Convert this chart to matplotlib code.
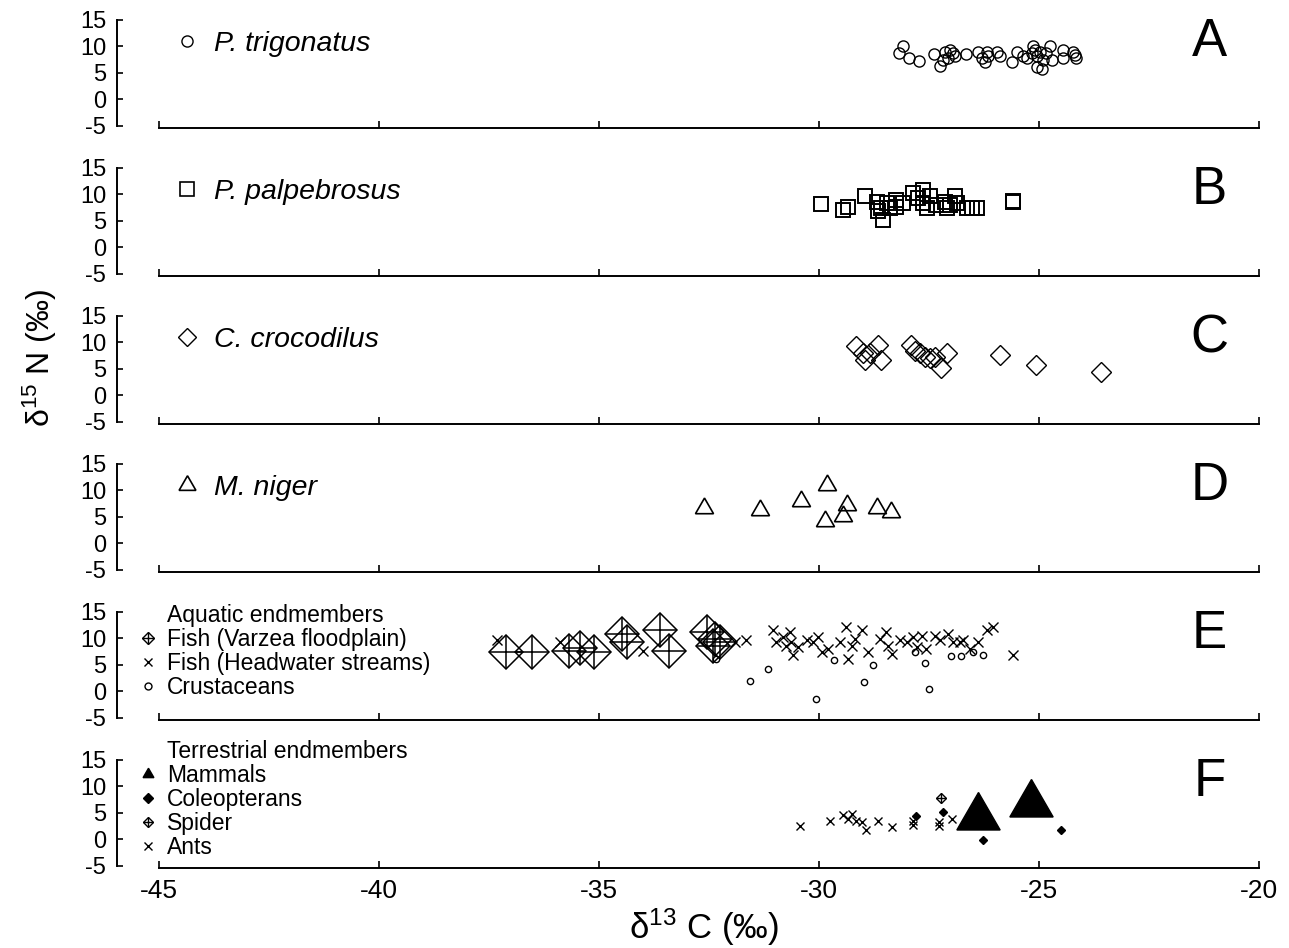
import matplotlib
matplotlib.use('Agg')
import matplotlib.pyplot as plt
from matplotlib.lines import Line2D
from matplotlib.font_manager import FontProperties

plt.rcParams['font.family'] = ['Liberation Sans', 'DejaVu Sans']
plt.rcParams['mathtext.fontset'] = 'custom'
plt.rcParams['mathtext.rm'] = 'Liberation Sans'
plt.rcParams['axes.unicode_minus'] = False

# --- data (d13C, d15N) ---
trig_x = [-28.09, -28.18, -27.95, -27.73, -27.39, -27.25, -27.14, -27.02, -26.95, -27.18,
          -27.06, -26.91, -26.66, -26.38, -26.30, -26.23, -26.15, -26.19, -25.96, -25.62,
          -25.51, -25.36, -25.13, -25.17, -24.98, -25.05, -24.90, -25.05, -24.94, -25.09,
          -24.83, -24.75, -24.71, -24.45, -24.45, -24.22, -24.15, -24.18, -25.28, -25.89]
trig_y = [10.1, 8.7, 7.8, 7.3, 8.6, 6.3, 9.0, 9.3, 8.7, 7.5,
          7.8, 8.1, 8.6, 8.9, 7.8, 7.1, 8.1, 8.9, 8.9, 7.1,
          8.9, 8.1, 10.0, 8.7, 9.0, 8.1, 7.5, 6.2, 5.7, 9.3,
          8.7, 10.0, 7.5, 9.3, 7.8, 9.0, 7.8, 8.4, 7.8, 8.1]

palp_x = [-29.96, -29.46, -29.33, -28.96, -28.68, -28.58, -28.46, -28.54, -28.65, -28.39,
          -28.24, -28.24, -28.08, -27.86, -27.63, -27.74, -27.63, -27.48, -27.55, -27.33,
          -27.14, -27.02, -26.91, -26.87, -27.10, -26.64, -26.53, -26.42, -25.58, -25.58]
palp_y = [8.1, 7.1, 7.6, 9.6, 8.6, 7.4, 8.3, 5.2, 6.8, 7.4,
          9.0, 7.7, 8.3, 10.2, 10.8, 9.3, 8.3, 9.6, 7.4, 8.0,
          8.6, 8.0, 9.6, 8.3, 7.4, 7.4, 7.4, 7.4, 8.8, 8.6]

croc_x = [-29.15, -28.65, -28.99, -28.84, -28.96, -28.58, -27.90, -27.82, -27.71, -27.59,
          -27.48, -27.37, -27.10, -27.22, -25.89, -25.07, -23.58]
croc_y = [9.4, 9.5, 8.0, 8.0, 6.7, 6.7, 9.5, 8.3, 8.0, 7.3,
          7.0, 7.3, 8.0, 5.1, 7.6, 5.8, 4.5]

nig_x = [-32.61, -31.34, -30.42, -29.81, -29.86, -29.37, -29.46, -28.69, -28.37]
nig_y = [6.6, 6.3, 7.9, 11.0, 4.3, 7.3, 5.1, 6.6, 6.0]

varzea_x = [-37.11, -36.53, -35.69, -35.43, -35.12, -34.48, -34.37, -33.61, -33.40, -32.55,
            -32.40, -32.36, -32.25]
varzea_y = [7.4, 7.5, 7.7, 8.1, 7.5, 10.8, 9.3, 11.5, 7.7, 11.2,
            8.6, 9.9, 9.3]

head_x = [-37.32, -35.88, -33.99, -31.90, -31.65, -31.04, -30.97, -30.82, -30.66, -30.63,
          -30.59, -30.74, -30.47, -30.28, -30.13, -30.02, -29.94, -29.79, -29.53, -29.38,
          -29.34, -29.26, -29.19, -29.03, -28.88, -28.62, -28.47, -28.43, -28.33, -28.16,
          -28.01, -27.86, -27.67, -27.78, -27.56, -27.37, -27.25, -27.07, -26.95, -26.80,
          -26.72, -26.57, -26.38, -26.19, -26.04, -25.59]
head_y = [9.6, 9.3, 7.7, 9.3, 9.6, 11.5, 9.3, 10.2, 11.2, 9.3,
          6.8, 8.6, 8.3, 9.6, 9.3, 10.2, 7.4, 8.0, 9.4, 12.1,
          6.1, 8.6, 9.9, 11.5, 7.4, 9.9, 11.2, 8.6, 7.1, 9.6,
          9.3, 10.2, 10.5, 8.3, 8.0, 10.5, 9.6, 10.8, 9.3, 9.3,
          9.6, 8.0, 9.3, 11.5, 12.1, 6.8]

crust_x = [-32.34, -31.56, -31.16, -30.07, -29.66, -28.97, -28.77, -27.82, -27.60, -27.50,
           -26.99, -26.78, -26.50, -26.28]
crust_y = [6.1, 2.0, 4.2, -1.5, 5.9, 1.85, 4.9, 7.5, 5.3, 0.5,
           6.6, 6.6, 7.4, 6.9]

mammal_x = [-26.38, -25.19]
mammal_y = [4.3, 6.7]
coleo_x = [-27.80, -27.19, -26.28, -24.50]
coleo_y = [4.4, 5.1, -0.1, 1.7]
spider_x = [-27.22]
spider_y = [7.8]
ant_x = [-30.44, -29.75, -29.45, -29.34, -29.26, -29.15, -29.03, -28.93, -28.65, -28.35,
         -27.86, -27.87, -27.27, -27.27, -26.97]
ant_y = [2.6, 3.55, 4.6, 3.9, 4.8, 3.55, 3.2, 1.8, 3.55, 2.3,
         3.55, 2.7, 2.6, 3.2, 3.9]

species = ['P. trigonatus', 'P. palpebrosus', 'C. crocodilus', 'M. niger']
letters = ['A', 'B', 'C', 'D', 'E', 'F']
x_ticks = [-45, -40, -35, -30, -25, -20]
y_ticks = [-5, 0, 5, 10, 15]

W, H = 1289, 948
fig = plt.figure(figsize=(W / 100, H / 100), dpi=100)


def make_axes(i):
    bottom = 128 + 148 * i
    ax = fig.add_axes([159 / W, 1 - bottom / H, 1100 / W, 110.8 / H])
    ax.set_xlim(-45, -20)
    ax.set_ylim(-5.4, 15.5)
    ax.patch.set_visible(False)
    for s in ['top', 'right']:
        ax.spines[s].set_visible(False)
    ax.spines['left'].set_position(('outward', 30))
    ax.spines['left'].set_bounds(-5, 15)
    ax.spines['left'].set_linewidth(1.4)
    ax.spines['bottom'].set_linewidth(1.4)
    ax.set_yticks(y_ticks)
    ax.tick_params(axis='y', direction='in', length=4, width=1.2, labelsize=17, pad=8)
    ax.set_xticks(x_ticks)
    ax.tick_params(axis='x', direction='in', length=5, width=1.2, labelbottom=(i == 5),
                   labelsize=19, pad=8)
    ax.text(0.955, 0.775, letters[i], transform=ax.transAxes, fontsize=38,
            ha='center', va='center')
    return ax


def species_legend(ax, handle, name):
    ax.legend([handle], [name], loc='center left', bbox_to_anchor=(0.0128, 0.76),
              frameon=False, handlelength=1, handletextpad=0.43, borderpad=0,
              borderaxespad=0, prop=FontProperties(family='Liberation Sans', style='italic', size=20.5))


open_kw = dict(ls='none', mfc='none', mec='k')

axes = [make_axes(i) for i in range(6)]

# A
ax = axes[0]
ax.plot(trig_x, trig_y, marker='o', ms=8, mew=1, **open_kw)
species_legend(ax, Line2D([], [], marker='o', ms=8, mew=1, **open_kw), species[0])
# B
ax = axes[1]
ax.plot(palp_x, palp_y, marker='s', ms=10, mew=1.4, **open_kw)
species_legend(ax, Line2D([], [], marker='s', ms=10, mew=1.2, **open_kw), species[1])
# C
ax = axes[2]
ax.plot(croc_x, croc_y, marker='D', ms=10, mew=1, **open_kw)
species_legend(ax, Line2D([], [], marker='D', ms=9, mew=1, **open_kw), species[2])
# D
ax = axes[3]
ax.plot(nig_x, nig_y, marker=(3, 0, 0), ms=15, mew=1.2, **open_kw)
species_legend(ax, Line2D([], [], marker=(3, 0, 0), ms=14, mew=1.2, **open_kw), species[3])

group_kw = dict(loc='center left', bbox_to_anchor=(-0.0188, 0.62), frameon=False,
                handlelength=0.85, handletextpad=0.4, borderpad=0, borderaxespad=0,
                labelspacing=0.04, fontsize=16.5)
blank = Line2D([], [], ls='none', marker='None')

# E
ax = axes[4]
ax.plot(varzea_x, varzea_y, marker='D', ms=17, mew=1.1, **open_kw)
ax.plot(varzea_x, varzea_y, marker='+', ms=24, mew=1.1, ls='none', color='k')
ax.plot(head_x, head_y, marker='x', ms=7, mew=1, ls='none', color='k')
ax.plot(crust_x, crust_y, marker='o', ms=4.5, mew=1, **open_kw)
hv = (Line2D([], [], marker='D', ms=6, mew=1, **open_kw),
      Line2D([], [], marker='+', ms=8.5, mew=1, ls='none', color='k'))
hh = Line2D([], [], marker='x', ms=6, mew=1, ls='none', color='k')
hc = Line2D([], [], marker='o', ms=5, mew=1, **open_kw)
ax.legend([blank, hv, hh, hc],
          ['Aquatic endmembers', 'Fish (Varzea floodplain)', 'Fish (Headwater streams)', 'Crustaceans'],
          **group_kw)

# F
ax = axes[5]
ax.plot(ant_x, ant_y, marker='x', ms=6, mew=1, ls='none', color='k')
ax.plot(coleo_x, coleo_y, marker='D', ms=4.5, ls='none', color='k')
ax.plot(spider_x, spider_y, marker='D', ms=5, mew=1, **open_kw)
ax.plot(spider_x, spider_y, marker='+', ms=7, mew=1, ls='none', color='k')
ax.plot(mammal_x, mammal_y, marker=(3, 0, 0), ms=36, ls='none', color='k')
hm = Line2D([], [], marker=(3, 0, 0), ms=9, ls='none', color='k')
hco = Line2D([], [], marker='D', ms=5, ls='none', color='k')
hs = (Line2D([], [], marker='D', ms=5, mew=1, **open_kw),
      Line2D([], [], marker='+', ms=7, mew=1, ls='none', color='k'))
ha = Line2D([], [], marker='x', ms=6, mew=1, ls='none', color='k')
ax.legend([blank, hm, hco, hs, ha],
          ['Terrestrial endmembers', 'Mammals', 'Coleopterans', 'Spider', 'Ants'],
          **group_kw)

fig.text(40 / W, 1 - 358 / H, r'$\mathregular{\delta^{15}}$ N (‰)', rotation=90,
         fontsize=23, ha='center', va='center')
fig.text(704 / W, 1 - 927 / H, r'$\mathregular{\delta^{13}}$ C (‰)', fontsize=25,
         ha='center', va='center')

fig.savefig('out.png', dpi=100)
